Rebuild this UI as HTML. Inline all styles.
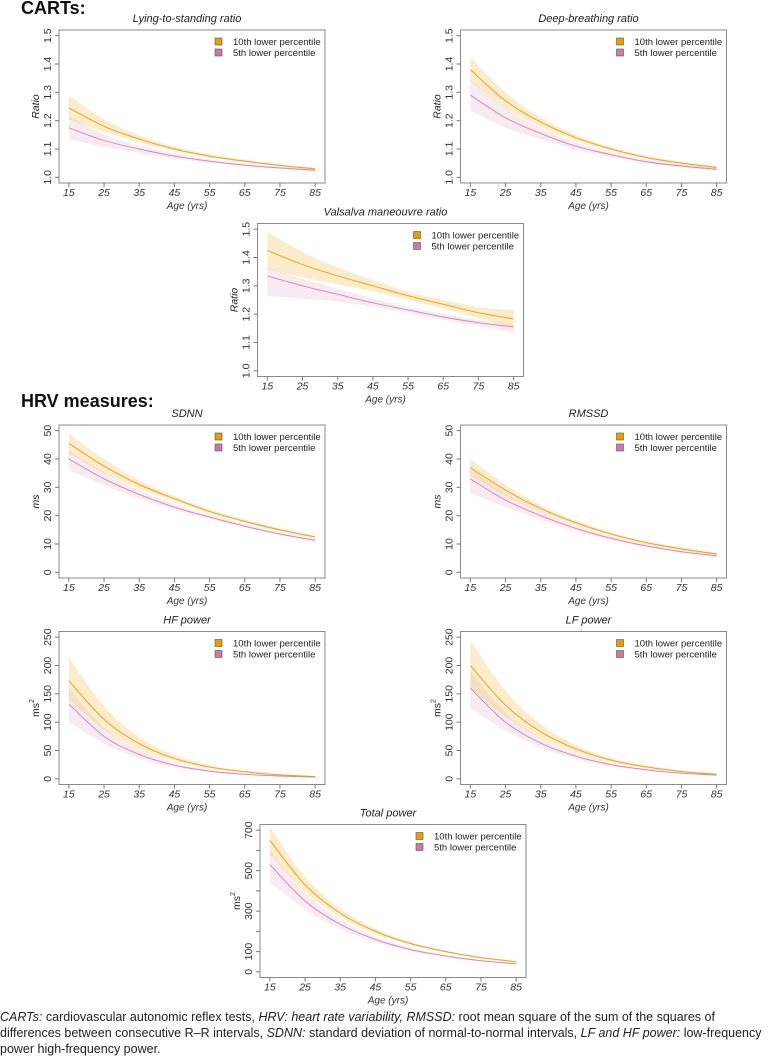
<!DOCTYPE html>
<html><head><meta charset="utf-8">
<style>
html,body{margin:0;padding:0;background:#fff;}
body{width:769px;height:1058px;overflow:hidden;position:relative;font-family:"Liberation Sans",sans-serif;}
svg{position:absolute;left:0;top:0;}
.cap{position:absolute;left:0;font-size:12.5px;color:#222;white-space:nowrap;line-height:16px;}
</style></head>
<body>
<svg id="page" width="769" height="1058" viewBox="0 0 769 1058">
<text x="21" y="14" font-size="18" font-weight="bold" fill="#111">CARTs:</text>
<text x="21" y="407" font-size="18" font-weight="bold" fill="#111">HRV measures:</text>
</svg>
<div class="cap" style="top:1009px"><i>CARTs:</i> cardiovascular autonomic reflex tests, <i>HRV: heart rate variability, RMSSD:</i> root mean square of the sum of the squares of</div>
<div class="cap" style="top:1025px">differences between consecutive R–R intervals, <i>SDNN:</i> standard deviation of normal-to-normal intervals, <i>LF and HF power:</i> low-frequency</div>
<div class="cap" style="top:1041px">power high-frequency power.</div>
<script>
const ages=[15,25,35,45,55,65,75,85];
// Lying-to-standing
const lyL10=[1.245,1.18,1.135,1.10,1.075,1.057,1.042,1.03];
const lyH10=[1.29,1.205,1.148,1.108,1.081,1.062,1.046,1.034];
const lyO10=[1.205,1.16,1.124,1.093,1.07,1.053,1.038,1.026];
const lyL5=[1.175,1.13,1.10,1.075,1.057,1.043,1.033,1.025];
const lyH5=[1.215,1.152,1.112,1.084,1.063,1.048,1.037,1.029];
const lyO5=[1.135,1.108,1.087,1.066,1.051,1.038,1.029,1.021];
// Deep-breathing
const dbL10=[1.38,1.27,1.195,1.14,1.10,1.07,1.05,1.035];
const dbH10=[1.425,1.30,1.212,1.15,1.107,1.076,1.055,1.04];
const dbO10=[1.34,1.245,1.178,1.13,1.093,1.065,1.045,1.03];
const dbL5=[1.29,1.21,1.155,1.11,1.08,1.055,1.04,1.028];
const dbH5=[1.345,1.245,1.175,1.122,1.088,1.062,1.045,1.033];
const dbO5=[1.235,1.175,1.135,1.098,1.072,1.05,1.035,1.023];
// Valsalva
const vaL10=[1.425,1.375,1.335,1.30,1.265,1.235,1.205,1.183];
const vaH10=[1.49,1.42,1.365,1.32,1.28,1.25,1.225,1.215];
const vaO10=[1.36,1.33,1.305,1.28,1.25,1.22,1.185,1.155];
const vaL5=[1.335,1.30,1.27,1.24,1.215,1.19,1.17,1.155];
const vaH5=[1.365,1.325,1.29,1.255,1.225,1.2,1.18,1.165];
const vaO5=[1.265,1.255,1.245,1.225,1.205,1.18,1.158,1.135];
// SDNN
const sdL10=[45.5,37.5,31,26,21.5,18,15,12.5];
const sdH10=[49,40,32.5,27,22.3,18.6,15.5,13];
const sdO10=[42,35,29.5,25,20.8,17.4,14.5,12];
const sdL5=[40,33,27.5,23,19.5,16.3,13.5,11.3];
const sdH5=[43,35.3,29,24,20.2,16.9,14.1,11.9];
const sdO5=[36,30.7,26,22,18.8,15.7,13,10.5];
// RMSSD
const rmL10=[37,29,22.5,17.5,13.5,10.5,8.3,6.5];
const rmH10=[40,31,23.7,18.3,14.1,11,8.8,7];
const rmO10=[34,27,21.3,16.7,12.9,10,7.8,6];
const rmL5=[33,25.5,20,15.5,12,9.3,7.3,5.8];
const rmH5=[37,28,21.5,16.5,12.7,9.9,7.8,6.3];
const rmO5=[28,23,18.5,14.5,11.3,8.7,6.8,5.2];
// HF power
const hfL10=[173,105,62,36,21,12.5,7,4];
const hfH10=[215,128,74,42,24,14.5,8.3,5];
const hfO10=[140,87,52,31,18,10.5,6,3];
const hfL5=[132,75,43,24,13.5,8,5,3];
const hfH5=[160,90,51,28,16,9.5,6,3.7];
const hfO5=[100,62,36,20,11.5,6.7,4,2.3];
// LF power
const lfL10=[200,130,83,53,33,21,13,8];
const lfH10=[245,155,97,60,37,23.5,14.5,9.5];
const lfO10=[160,110,72,46,29,18.5,11.5,7];
const lfL5=[160,100,63,40,25,16,10,6.5];
const lfH5=[190,117,72,45,28,18,11.3,7.5];
const lfO5=[125,85,55,35,22,14,8.8,5.5];
// Total power
const tpL10=[650,430,290,200,140,100,70,50];
const tpH10=[715,470,312,213,148,105,74,54];
const tpO10=[585,395,272,188,133,95,66,46];
const tpL5=[530,350,235,160,110,78,55,40];
const tpH5=[600,390,258,173,118,83,59,44];
const tpO5=[440,310,212,147,102,72,51,36];

const ratioTicks=[1.0,1.1,1.2,1.3,1.4,1.5];
const ratioLabels=["1.0","1.1","1.2","1.3","1.4","1.5"];
const msTicks=[0,10,20,30,40,50];
const msLabels=["0","10","20","30","40","50"];
const pwTicks=[0,50,100,150,200,250];
const pwLabels=["0","50","100","150","200","250"];
const tpTicks=[0,100,200,300,400,500,600,700];
const tpLabels=["0","100","","300","","500","","700"];
const xTickLabels=["15","25","35","45","55","65","75","85"];

const NS="http://www.w3.org/2000/svg";
const svg=document.getElementById('page');
function mk(tag,attrs,parent){const e=document.createElementNS(NS,tag);for(const k in attrs)e.setAttribute(k,attrs[k]);(parent||svg).appendChild(e);return e;}
function smooth(pts){
  let d="M"+pts[0][0].toFixed(2)+","+pts[0][1].toFixed(2);
  for(let i=0;i<pts.length-1;i++){
    const p0=pts[i-1]||pts[i],p1=pts[i],p2=pts[i+1],p3=pts[i+2]||p2;
    const c1=[p1[0]+(p2[0]-p0[0])/6,p1[1]+(p2[1]-p0[1])/6];
    const c2=[p2[0]-(p3[0]-p1[0])/6,p2[1]-(p3[1]-p1[1])/6];
    d+=" C"+c1[0].toFixed(2)+","+c1[1].toFixed(2)+" "+c2[0].toFixed(2)+","+c2[1].toFixed(2)+" "+p2[0].toFixed(2)+","+p2[1].toFixed(2);
  }
  return d;
}
function chart(c){
  const w=266,h=153,bx=c.x,by=c.y;
  const g=mk('g',{});
  
  
  const xr=85-15,xp=xr*0.04;
  const X=a=>bx+(a-15+xp)/(xr+2*xp)*w;
  const ymin=c.ticks[0],ymax=c.ticks[c.ticks.length-1],yr=ymax-ymin,yp=yr*0.04;
  const Y=v=>by+h-(v-ymin+yp)/(yr+2*yp)*h;
  const drawBand=(hi,lo,fill,nm)=>{
    const top=ages.map((a,i)=>[X(a),Y(hi[i])]);
    const bot=ages.map((a,i)=>[X(a),Y(lo[i])]).reverse();
    let d=smooth(top)+" L"+bot[0][0]+","+bot[0][1]+smooth(bot).replace(/^M[^C]*/,' ')+" Z";
    const p=mk('path',{d:d,fill:fill,stroke:'none'},g);
    
    
  };
  drawBand(c.h5,c.o5,'rgba(204,121,167,0.15)','band-5th');
  drawBand(c.h10,c.o10,'rgba(240,185,50,0.25)','band-10th');
  const l5=mk('path',{d:smooth(ages.map((a,i)=>[X(a),Y(c.l5[i])])),fill:'none',stroke:'#d77fb3','stroke-width':0.9},g);
  
  
  const l10=mk('path',{d:smooth(ages.map((a,i)=>[X(a),Y(c.l10[i])])),fill:'none',stroke:'#e9a21a','stroke-width':1},g);
  
  
  const box=mk('rect',{x:bx,y:by,width:w,height:h,fill:'none',stroke:'#8a8a8a','stroke-width':1},g);
  
  
  c.ticks.forEach((t,i)=>{
    const yy=Y(t);
    mk('line',{x1:bx-4,x2:bx,y1:yy,y2:yy,stroke:'#777','stroke-width':1},g);
    if(c.labels[i]){
      const tx=mk('text',{x:0,y:0,'font-size':10.5,fill:'#333','text-anchor':'middle',transform:`translate(${bx-8},${yy}) rotate(-90)`},g);
      tx.textContent=c.labels[i];
      
      
    }
  });
  ages.forEach((a,i)=>{
    const xx=X(a);
    mk('line',{x1:xx,x2:xx,y1:by+h,y2:by+h+4,stroke:'#777','stroke-width':1},g);
    const tx=mk('text',{x:xx,y:by+h+13,'font-size':10.5,'font-style':'italic',fill:'#333','text-anchor':'middle'},g);
    tx.textContent=xTickLabels[i];
    
    
  });
  const xl=mk('text',{x:bx+w/2-5,y:by+h+26,'font-size':10,'font-style':'italic',fill:'#333','text-anchor':'middle'},g);
  xl.textContent='Age (yrs)';
  
  
  const tt=mk('text',{x:bx+w/2-5,y:by-8,'font-size':11,'font-style':'italic',fill:'#222','text-anchor':'middle'},g);
  tt.textContent=c.title;
  
  
  const yl=mk('text',{x:0,y:0,'font-size':10.5,'font-style':c.ylab=='ms2'?'normal':'italic',fill:'#222','text-anchor':'middle',transform:`translate(${bx-20},${by+h/2}) rotate(-90)`},g);
  if(c.ylab=='ms2'){yl.textContent='ms';const s=mk('tspan',{'font-size':7,dy:-5},yl);s.textContent='2';}
  else yl.textContent=c.ylab;
  
  
  const lg=mk('g',{},g);
  
  
  [['#e69f00','10th lower percentile'],['#cc79a7','5th lower percentile']].forEach((L,i)=>{
    mk('rect',{x:bx+156,y:by+8+i*11,width:7,height:7,fill:L[0],stroke:'#555','stroke-width':0.6},lg);
    const t=mk('text',{x:bx+174,y:by+15+i*11,'font-size':9.5,fill:'#222'},lg);
    t.textContent=L[1];
    
    
  });
}
chart({name:'lying-standing-chart',title:'Lying-to-standing ratio',ylab:'Ratio',x:59,y:30,ticks:ratioTicks,labels:ratioLabels,l10:lyL10,h10:lyH10,o10:lyO10,l5:lyL5,h5:lyH5,o5:lyO5});
chart({name:'deep-breathing-chart',title:'Deep-breathing ratio',ylab:'Ratio',x:460.5,y:30,ticks:ratioTicks,labels:ratioLabels,l10:dbL10,h10:dbH10,o10:dbO10,l5:dbL5,h5:dbH5,o5:dbO5});
chart({name:'valsalva-chart',title:'Valsalva maneouvre ratio',ylab:'Ratio',x:257.5,y:223.5,ticks:ratioTicks,labels:ratioLabels,l10:vaL10,h10:vaH10,o10:vaO10,l5:vaL5,h5:vaH5,o5:vaO5});
chart({name:'sdnn-chart',title:'SDNN',ylab:'ms',x:59,y:425,ticks:msTicks,labels:msLabels,l10:sdL10,h10:sdH10,o10:sdO10,l5:sdL5,h5:sdH5,o5:sdO5});
chart({name:'rmssd-chart',title:'RMSSD',ylab:'ms',x:460.5,y:425,ticks:msTicks,labels:msLabels,l10:rmL10,h10:rmH10,o10:rmO10,l5:rmL5,h5:rmH5,o5:rmO5});
chart({name:'hf-power-chart',title:'HF power',ylab:'ms2',x:59,y:631.5,ticks:pwTicks,labels:pwLabels,l10:hfL10,h10:hfH10,o10:hfO10,l5:hfL5,h5:hfH5,o5:hfO5});
chart({name:'lf-power-chart',title:'LF power',ylab:'ms2',x:460.5,y:631.5,ticks:pwTicks,labels:pwLabels,l10:lfL10,h10:lfH10,o10:lfO10,l5:lfL5,h5:lfH5,o5:lfO5});
chart({name:'total-power-chart',title:'Total power',ylab:'ms2',x:260,y:824.5,ticks:tpTicks,labels:tpLabels,l10:tpL10,h10:tpH10,o10:tpO10,l5:tpL5,h5:tpH5,o5:tpO5});
</script>
</body></html>
